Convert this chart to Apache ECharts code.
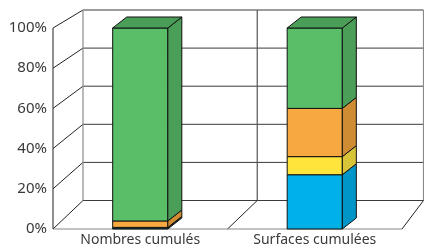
<!DOCTYPE html>
<html>
<head>
<meta charset="utf-8">
<script src="https://cdn.jsdelivr.net/npm/echarts@6/dist/echarts.min.js"></script>
<style>
  html, body { margin: 0; padding: 0; background: #fff; }
  #chart { width: 424px; height: 251px; }
</style>
</head>
<body>
<div id="chart"></div>
<script>
// data (bottom layer first), in %
const categories = ['Nombres cumulés', 'Surfaces cumulées']
const yTicks = [0, 20, 40, 60, 80, 100]
const layerBlue = [0.5, 27]
const layerYellow = [0.3, 9]
const layerOrange = [3.2, 24]
const layerGreen = [96, 40]

const layers = [layerBlue, layerYellow, layerOrange, layerGreen]
const layerColors = [
  {front: '#00b0e8', side: '#0096c8'},
  {front: '#ffe43c', side: '#d8c438'},
  {front: '#f8a840', side: '#d08c32'},
  {front: '#5abe69', side: '#4a9e58'}
]

// fake 3d depth
const BAR_DX = 14, BAR_DY = -11
const WALL = {left: 30, right: 21.5, top: -18, bottom: -28.5, persp: 0.048}

const chart = echarts.init(document.getElementById('chart'))

// floor / walls / gridlines, drawn from the axes
const wallsRender = (params, api) => {
  const band = api.size([1, 0])[0]
  const fl = api.coord([0, 0])[0] - band / 2
  const fr = fl + band * categories.length
  const fb = api.coord([0, 0])[1]
  const ft = api.coord([0, 100])[1]
  const bl = fl + WALL.left, br = fr + WALL.right
  const bb = fb + WALL.bottom, bt = ft + WALL.top
  const front = (X, v) => [fl + (fr - fl) * X, api.coord([0, v])[1]]
  const back = (X, v) => [
    bl + (br - bl) * X * (1 + WALL.persp) / (1 + WALL.persp * X),
    bb + (bt - bb) * v / 100
  ]
  const line = (a, b, color, w) => ({
    type: 'line',
    shape: {x1: a[0], y1: a[1], x2: b[0], y2: b[1]},
    style: {stroke: color, lineWidth: w || 1}
  })
  const children = []
  yTicks.forEach(v => {
    children.push(line(back(0, v), back(1, v), '#3a3a3a', 1))
    children.push(line(front(0, v), back(0, v), '#222', 1))
  })
  for (let i = 0; i <= categories.length; i++) {
    const X = i / categories.length
    const col = i === 0 || i === categories.length ? '#8a8a8a' : '#555'
    children.push(line(back(X, 0), back(X, 100), col, 1.2))
    if (i > 0) children.push(line(front(X, 0), back(X, 0), '#222', 1))
  }
  children.push(line(front(0, 0), front(1, 0), '#888', 1.2))
  children.push(line(front(0, 0), front(0, 100), '#222', 1))
  return {type: 'group', children}
}

const barRender = (isTop, colors) => (params, api) => {
  const c = api.value(0), b = api.value(1), t = api.value(2)
  const pb = api.coord([c, b]), pt = api.coord([c, t])
  const hw = api.size([1, 0])[0] * 0.316 / 2
  const x0 = pb[0] - hw, x1 = pb[0] + hw
  const yb = pb[1], yt = pt[1]
  const stroke = {stroke: '#111', lineWidth: 1, lineJoin: 'round'}
  const children = [
    {type: 'rect', shape: {x: x0, y: yt, width: x1 - x0, height: yb - yt},
      style: Object.assign({fill: colors.front}, stroke)},
    {type: 'polygon', shape: {points: [[x1, yb], [x1 + BAR_DX, yb + BAR_DY], [x1 + BAR_DX, yt + BAR_DY], [x1, yt]]},
      style: Object.assign({fill: colors.side}, stroke)}
  ]
  if (isTop) {
    children.push({type: 'polygon',
      shape: {points: [[x0, yt], [x1, yt], [x1 + BAR_DX, yt + BAR_DY], [x0 + BAR_DX, yt + BAR_DY]]},
      style: Object.assign({fill: colors.side}, stroke)})
  }
  return {type: 'group', children}
}

// cumulative stacking
const base = categories.map(() => 0)
const barSeries = layers.map((vals, li) => {
  const data = vals.map((v, ci) => {
    const item = [ci, base[ci], base[ci] + v]
    base[ci] += v
    return item
  })
  return {
    type: 'custom',
    renderItem: barRender(li === layers.length - 1, layerColors[li]),
    encode: {x: 0, y: [1, 2]},
    clip: false,
    data
  }
})

chart.setOption({
  animation: false,
  grid: {left: 53, right: 22, top: 28, bottom: 22},
  xAxis: {
    type: 'category',
    data: categories,
    axisLine: {show: false},
    axisTick: {show: false},
    axisLabel: {color: '#3a3a3a', fontSize: 14, fontFamily: 'Noto Sans', margin: 4}
  },
  yAxis: {
    type: 'value',
    min: 0,
    max: 100,
    interval: 20,
    axisLine: {show: false},
    axisTick: {show: false},
    splitLine: {show: false},
    axisLabel: {formatter: '{value}%', color: '#3a3a3a', fontSize: 15, fontFamily: 'Noto Sans', margin: 6}
  },
  series: [
    {type: 'custom', renderItem: wallsRender, data: [[0, 0]], encode: {x: 0, y: 1}, clip: false, silent: true}
  ].concat(barSeries)
})
</script>
</body>
</html>
